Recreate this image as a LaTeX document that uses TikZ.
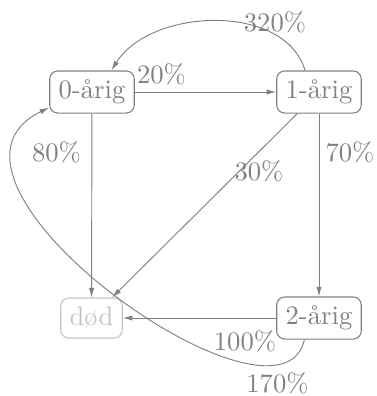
\documentclass[tikz,border=0pt]{standalone}
\usetikzlibrary{arrows.meta}
\definecolor{linegray}{RGB}{128,128,128}
\definecolor{lightgray2}{RGB}{195,195,195}
\begin{document}
\begin{tikzpicture}[x=0.375pt,y=-0.375pt,
  state/.style={draw=linegray,text=linegray,rounded corners=3pt,inner sep=3.33pt,minimum height=15pt,line width=0.4pt},
  deadstate/.style={state,draw=lightgray2,text=lightgray2},
  edge/.style={draw=linegray,line width=0.35pt,-{Latex[length=3.6pt,width=2pt]}},
  lab/.style={text=linegray,inner sep=0pt}]
\useasboundingbox (0,0) rectangle (377,396);
\node[state] (n0) at (92,92) {0-årig};
\node[state] (n1) at (319,92) {1-årig};
\node[state] (n2) at (319,318) {2-årig};
\node[deadstate] (dod) at (91.5,318) {død};
\draw[edge] (n0) -- (n1);
\draw[edge] (n0) -- (dod);
\draw[edge] (n1) -- (dod);
\draw[edge] (n1) -- (n2);
\draw[edge] (n2) -- (dod);
\draw[edge] (n1.123) .. controls (285,2) and (150,8) .. (n0.48);
\draw[edge] (n2.236) .. controls (280,450) and (-100,180) .. (n0.200);
\node[lab] (l20) at (161.5,74) {20\%};
\node[lab] (l320) at (275,22.5) {320\%};
\node[lab] (l80) at (56.5,152) {80\%};
\node[lab] (l70) at (350,152) {70\%};
\node[lab] (l30) at (259,171) {30\%};
\node[lab] (l100) at (245,341) {100\%};
\node[lab] (l170) at (277.5,383) {170\%};
\end{tikzpicture}
\end{document}
